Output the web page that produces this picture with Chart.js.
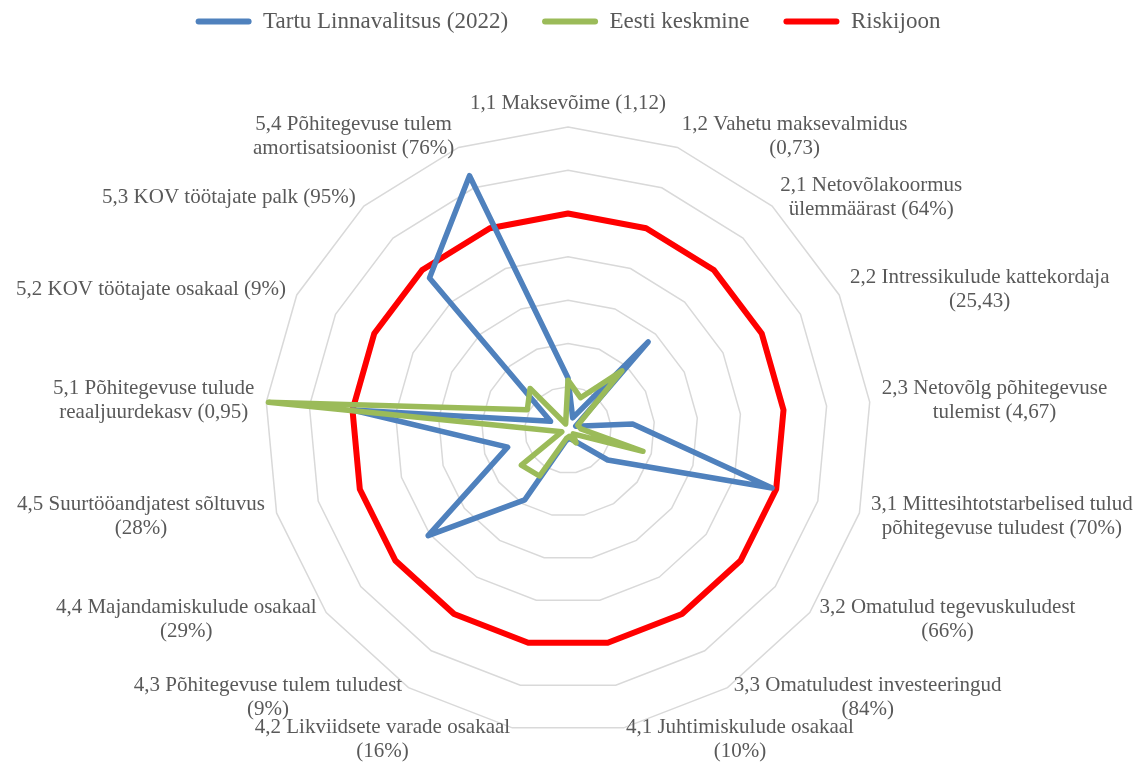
<!DOCTYPE html>
<html lang="et">
<head>
<meta charset="utf-8">
<title>Tartu Linnavalitsus – finantsnäitajad</title>
<script src="https://cdn.jsdelivr.net/npm/chart.js@4/dist/chart.umd.min.js"></script>
<style>
  html, body { margin: 0; padding: 0; background: #fff; }
  #wrap { width: 1144px; height: 763px; position: relative; }
</style>
</head>
<body>
<div id="wrap"><canvas id="radarChart"></canvas></div>
<script>
// ── DATA ──────────────────────────────────────────────
const categories = [
  '1,1 Maksevõime (1,12)',
  ['1,2 Vahetu maksevalmidus', '(0,73)'],
  ['2,1 Netovõlakoormus', 'ülemmäärast (64%)'],
  ['2,2 Intressikulude kattekordaja', '(25,43)'],
  ['2,3 Netovõlg põhitegevuse', 'tulemist (4,67)'],
  ['3,1 Mittesihtotstarbelised tulud', 'põhitegevuse tuludest (70%)'],
  ['3,2 Omatulud tegevuskuludest', '(66%)'],
  ['3,3 Omatuludest investeeringud', '(84%)'],
  ['4,1 Juhtimiskulude osakaal', '(10%)'],
  ['4,2 Likviidsete varade osakaal', '(16%)'],
  ['4,3 Põhitegevuse tulem tuludest', '(9%)'],
  ['4,4 Majandamiskulude osakaal', '(29%)'],
  ['4,5 Suurtööandjatest sõltuvus', '(28%)'],
  ['5,1 Põhitegevuse tulude', 'reaaljuurdekasv (0,95)'],
  '5,2 KOV töötajate osakaal (9%)',
  '5,3 KOV töötajate palk (95%)',
  ['5,4 Põhitegevuse tulem', 'amortisatsioonist (76%)']
];

const tartuValues = [0.24, 0.06, 0.55, 0.04, 0.30, 0.98, 0.23, 0.06, 0.04, 0.05, 0.38, 0.81, 0.29, 1.00, 0.09, 0.95, 1.26];
const eestiValues = [0.23, 0.16, 0.37, 0.05, 0.06, 0.36, 0.03, 0.07, 0.03, 0.04, 0.25, 0.27, 0.03, 1.39, 0.21, 0.26, 0.03];
const riskValues  = [1, 1, 1, 1, 1, 1, 1, 1, 1, 1, 1, 1, 1, 1, 1, 1, 1];

const seriesNames = ['Tartu Linnavalitsus (2022)', 'Eesti keskmine', 'Riskijoon'];

// scale: 7 rings, 0 … 1.4
const scaleMin = 0;
const scaleMax = 1.4;
const scaleStep = 0.2;

// ── STYLE ─────────────────────────────────────────────
const BLUE = '#4f81bd';
const GREEN = '#9bbb59';
const RED = '#ff0000';
const TEXT = '#595959';
const SERIF = '"Liberation Serif", "Times New Roman", serif';
const LABEL_SIZE = 21;
const LABEL_LINE = 24;

// ── PLUGINS ───────────────────────────────────────────
// extra room under the legend
const legendGap = {
  id: 'legendGap',
  beforeInit(chart) {
    const fit = chart.legend.fit;
    chart.legend.fit = function () {
      fit.bind(chart.legend)();
      this.height += 84;
    };
  }
};

// category labels, vertically centred on their spoke like Excel does
const spokeLabels = {
  id: 'spokeLabels',
  afterDraw(chart) {
    const scale = chart.scales.r;
    const ctx = chart.ctx;
    ctx.save();
    ctx.font = LABEL_SIZE + 'px ' + SERIF;
    ctx.fillStyle = TEXT;
    ctx.textAlign = 'center';
    ctx.textBaseline = 'middle';

    chart.data.labels.forEach((lab, i) => {
      const lines = Array.isArray(lab) ? lab : [lab];
      const p = scale.getPointPosition(i, scale.drawingArea + 12);
      const deg = ((p.angle * 180 / Math.PI) + 90 + 360) % 360;
      const w = Math.max(...lines.map(t => ctx.measureText(t).width));
      const h = lines.length * LABEL_LINE;

      let cx = p.x;
      if (deg > 1 && deg < 179) cx = p.x + w / 2;
      else if (deg > 181 && deg < 359) cx = p.x - w / 2;

      let top = p.y - h / 2;
      if (deg <= 1 || deg >= 359) top = p.y - h;

      lines.forEach((t, k) => ctx.fillText(t, cx, top + LABEL_LINE * (k + 0.5)));
    });
    ctx.restore();
  }
};

// ── CHART ─────────────────────────────────────────────
const ctx = document.getElementById('radarChart').getContext('2d');

new Chart(ctx, {
  type: 'radar',
  data: {
    labels: categories,
    datasets: [
      {
        label: seriesNames[0],
        data: tartuValues,
        borderColor: BLUE,
        backgroundColor: BLUE,
        borderWidth: 5.5,
        order: 1
      },
      {
        label: seriesNames[1],
        data: eestiValues,
        borderColor: GREEN,
        backgroundColor: GREEN,
        borderWidth: 5.5,
        order: 0
      },
      {
        label: seriesNames[2],
        data: riskValues,
        borderColor: RED,
        backgroundColor: RED,
        borderWidth: 6,
        order: 2
      }
    ]
  },
  options: {
    responsive: true,
    maintainAspectRatio: false,
    animation: false,
    layout: { padding: { top: -24, right: 8, bottom: 30, left: 0 } },
    elements: {
      line: { fill: false, tension: 0, borderJoinStyle: 'round', borderCapStyle: 'round' },
      point: { radius: 0, hoverRadius: 0 }
    },
    plugins: {
      tooltip: { enabled: false },
      legend: {
        position: 'top',
        labels: {
          boxWidth: 56,
          boxHeight: 6,
          padding: 34,
          color: TEXT,
          useBorderRadius: true,
          borderRadius: 3,
          font: { family: SERIF, size: 23 },
          sort: (a, b) => a.datasetIndex - b.datasetIndex,
          generateLabels(chart) {
            const items = Chart.defaults.plugins.legend.labels.generateLabels(chart);
            items.forEach(it => { it.lineWidth = 0; it.fillStyle = it.strokeStyle; });
            return items;
          }
        }
      }
    },
    scales: {
      r: {
        min: scaleMin,
        max: scaleMax,
        ticks: { display: false, stepSize: scaleStep },
        grid: { color: '#d9d9d9', lineWidth: 1.5, circular: false },
        angleLines: { display: false },
        pointLabels: { display: false }
      }
    }
  },
  plugins: [legendGap, spokeLabels]
});
</script>
</body>
</html>
